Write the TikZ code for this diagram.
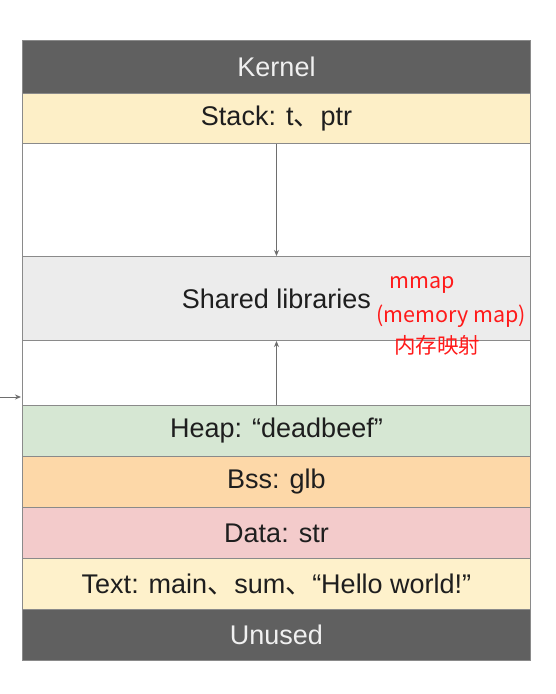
\documentclass[tikz,border=0pt]{standalone}
\usepackage{fontspec}
\setmainfont{Liberation Sans}
\newfontfamily\cjk{Noto Sans CJK SC}
\usetikzlibrary{arrows.meta}
\definecolor{kgray}{HTML}{606060}
\definecolor{linegray}{HTML}{8A8A8A}
\definecolor{stackc}{HTML}{FDEFC7}
\definecolor{sharedc}{HTML}{ECECEC}
\definecolor{heapc}{HTML}{D6E7D3}
\definecolor{bssc}{HTML}{FDD8A8}
\definecolor{datac}{HTML}{F3CBCB}
\definecolor{textc}{HTML}{FEF1CB}
\definecolor{redc}{HTML}{FF1A1A}
\definecolor{inkc}{HTML}{1E1E1E}
\begin{document}
\begin{tikzpicture}[x=1pt,y=-1pt,
  seg/.style={draw=linegray, line width=1pt, minimum width=508pt, inner sep=0pt,
    anchor=north west, text=inkc, font=\fontsize{27}{32}\selectfont},
  darkseg/.style={seg, fill=kgray, text=white!94!black},
  redlbl/.style={text=redc, inner sep=0pt, font=\cjk\fontsize{21.5}{26}\selectfont},
  growarrow/.style={draw=linegray!80!black, line width=1pt, -{Stealth[length=6pt,width=5pt]}}]
\useasboundingbox (0,0) rectangle (555,694);
\fill[white] (0,0) rectangle (555,694);
\node[darkseg, minimum height=53pt] (kernel) at (22,40) {Kernel};
\node[seg, fill=stackc, minimum height=50pt] (stack) at (22,93) {Stack: t{\cjk 、}ptr};
\node[seg, fill=white, minimum height=113pt] (gapA) at (22,143) {};
\node[seg, fill=sharedc, minimum height=84pt] (shared) at (22,256) {Shared libraries};
\node[seg, fill=white, minimum height=65pt] (gapB) at (22,340) {};
\node[seg, fill=heapc, minimum height=51pt] (heap) at (22,405) {Heap: “deadbeef”};
\node[seg, fill=bssc, minimum height=51pt] (bss) at (22,456) {Bss: glb};
\node[seg, fill=datac, minimum height=51pt] (data) at (22,507) {Data: str};
\node[seg, fill=textc, minimum height=51pt] (textseg) at (22,558) {Text: main{\cjk 、}sum{\cjk 、}“Hello world!”};
\node[darkseg, minimum height=51pt] (unused) at (22,609) {Unused};
\draw[growarrow] (stack.south) -- (shared.north);
\draw[growarrow] (heap.north) -- (shared.south);
\coordinate (leftin) at (0,397);
\coordinate (leftend) at (21,397);
\draw[growarrow] (leftin) -- (leftend);
\node[redlbl] (mmap) at (422,285) {mmap};
\node[redlbl] (mmapfull) at (451,316) {(memory map)};
\node[redlbl] (mmapcn) at (437,345) {内存映射};
\end{tikzpicture}
\end{document}
